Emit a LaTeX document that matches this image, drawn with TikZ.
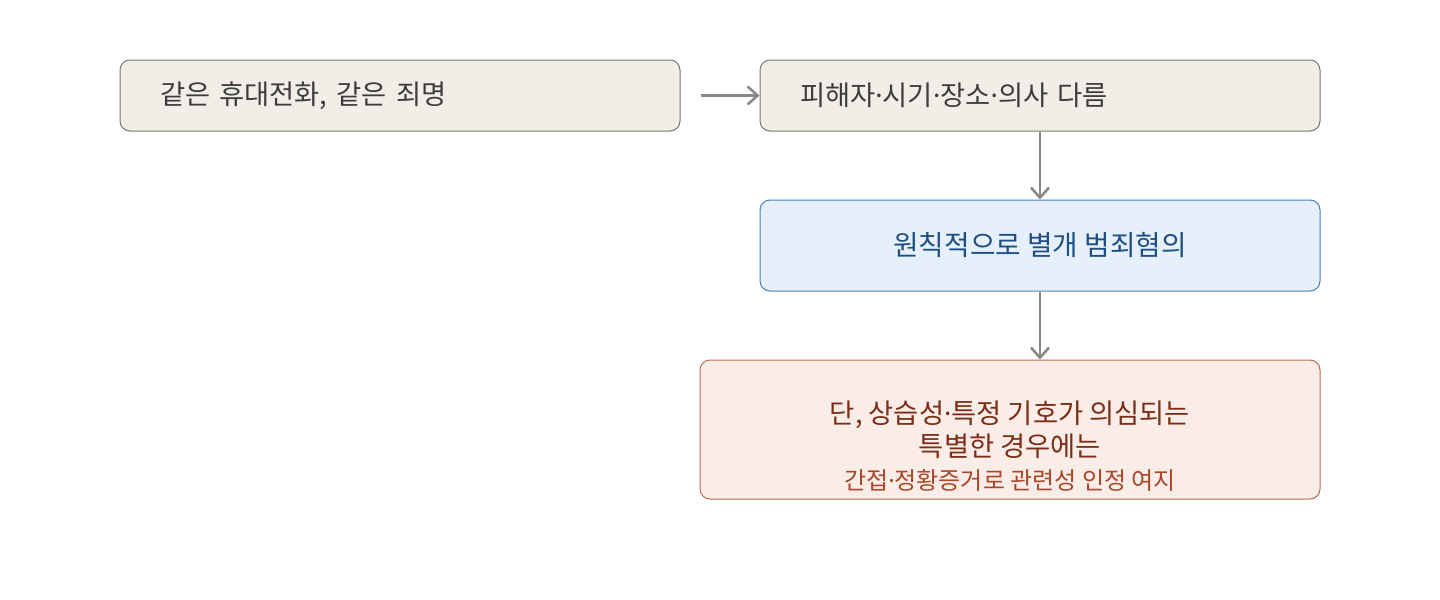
\documentclass[tikz,border=0pt]{standalone}
\usepackage{fontspec}
\setmainfont{Noto Sans CJK KR}
\newfontfamily\latinfont{Noto Sans}
\newcommand{\mdot}{{\latinfont ·}}
\usetikzlibrary{arrows.meta,calc}
\definecolor{grayfill}{HTML}{F1EEE8}
\definecolor{grayline}{HTML}{7A7670}
\definecolor{graytext}{HTML}{3D3D3D}
\definecolor{bluefill}{HTML}{E5F0FA}
\definecolor{blueline}{HTML}{4A80BA}
\definecolor{bluetext}{HTML}{1F4E85}
\definecolor{redfill}{HTML}{FAECE6}
\definecolor{redline}{HTML}{B86E55}
\definecolor{redtext}{HTML}{7B2E18}
\definecolor{redsmall}{HTML}{A8472A}
\definecolor{arrowgray}{HTML}{8A8884}
\tikzset{
  box/.style={draw, rounded corners=7.5pt, line width=0.75pt, inner sep=0pt},
  graybox/.style={box, fill=grayfill, draw=grayline, minimum width=420pt, minimum height=53.25pt,
     text width=360pt, align=left, text=graytext, font=\fontsize{20.5pt}{24pt}\selectfont},
  arr/.style={draw=arrowgray, line width=2.2pt, -{Straight Barb[length=7.5pt,width=13.5pt,line width=1.9pt]}}
}
\begin{document}
\begin{tikzpicture}[x=0.75pt,y=-0.75pt]
\useasboundingbox (0,0) rectangle (1440,600);
\node[graybox] (A) at (400,95.5) {같은 휴대전화, 같은 죄명};
\node[graybox] (B) at (1040,95.5) {피해자\mdot 시기\mdot 장소\mdot 의사 다름};
\node[box, fill=bluefill, draw=blueline, minimum width=420pt, minimum height=68.25pt,
   text=bluetext, font=\fontsize{20.8pt}{24pt}\selectfont] (C) at (1040,245.5) {원칙적으로 별개 범죄혐의};
\node[box, fill=redfill, draw=redline, minimum width=465pt, minimum height=104.25pt] (D) at (1010,429.5) {};
\node[align=center, text=redtext, font=\fontsize{20.5pt}{25pt}\selectfont, inner sep=0pt] (Dt) at (1010,429.5)
  {단, 상습성\mdot 특정 기호가 의심되는\\특별한 경우에는};
\node[text=redsmall, font=\fontsize{18pt}{20pt}\selectfont, inner sep=0pt] (Ds) at (1010,480) {간접\mdot 정황증거로 관련성 인정 여지};
\coordinate (As) at ($(A.east)+(20,0)$);
\draw[arr] (As) -- (B.west);
\draw[arr] (B.south) -- (C.north);
\draw[arr] (C.south) -- (D.north -| C.south);
\end{tikzpicture}
\end{document}
